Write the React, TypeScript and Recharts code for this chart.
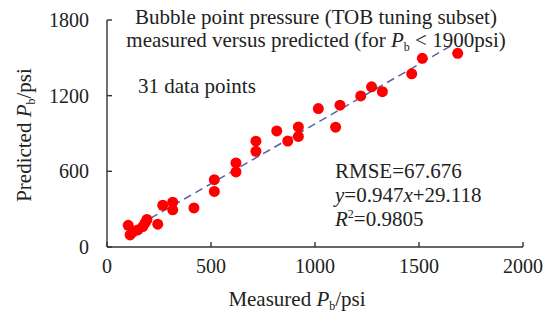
import { ReferenceLine, Scatter, ScatterChart, XAxis, YAxis } from "recharts";

const measured = [
	1686, 1516, 1465, 1272, 1324, 1220, 1120, 1016, 1099, 920, 920, 816, 869,
	716, 716, 620, 620, 516, 516, 418, 316, 316, 268, 244, 192, 183, 172, 148,
	125, 111, 102,
];
const predicted = [
	1536, 1496, 1373, 1270, 1232, 1198, 1125, 1098, 950, 952, 877, 920, 840,
	839, 759, 667, 595, 534, 441, 310, 355, 295, 331, 181, 218, 189, 162, 135,
	120, 96, 172,
];
const xTicks = [0, 500, 1000, 1500, 2000];
const yTicks = [0, 600, 1200, 1800];

const slope = 0.947;
const intercept = 29.118;
const fitRange = [100, 1660];

const points = measured.map((m, i) => ({ x: m, y: predicted[i] }));

const font = "'Liberation Serif', 'Times New Roman', serif";
const ink = "#222";

const Dot = (props: any) => (
	<circle cx={props.cx} cy={props.cy} r={5.5} fill="#ff0000" />
);

const XTick = (props: any) => (
	<text
		x={props.x}
		y={props.y}
		dy="0.71em"
		textAnchor="middle"
		style={{ fontFamily: font, fontSize: 20, fill: ink }}
	>
		{props.payload.value}
	</text>
);

const YTick = (props: any) => (
	<text
		x={props.x}
		y={props.y}
		dy="0.355em"
		textAnchor="end"
		style={{ fontFamily: font, fontSize: 20, fill: ink }}
	>
		{props.payload.value}
	</text>
);

export default function App() {
	return (
		<div
			style={{
				position: "absolute",
				left: 0,
				top: 0,
				width: 552,
				height: 325,
				fontFamily: font,
			}}
		>
			<ScatterChart
				width={552}
				height={325}
				margin={{ top: 20, right: 29, left: 0, bottom: 0 }}
			>
				<XAxis
					type="number"
					dataKey="x"
					domain={[0, 2000]}
					ticks={xTicks}
					height={78}
					tickSize={-5}
					tickMargin={17}
					tick={XTick}
					axisLine={{ stroke: "#333", strokeWidth: 1.4 }}
					tickLine={{ stroke: "#333", strokeWidth: 1.4 }}
					interval={0}
				/>
				<YAxis
					type="number"
					dataKey="y"
					domain={[0, 1800]}
					ticks={yTicks}
					width={107}
					tickSize={-5}
					tickMargin={23}
					tick={YTick}
					axisLine={{ stroke: "#333", strokeWidth: 1.4 }}
					tickLine={{ stroke: "#333", strokeWidth: 1.4 }}
					interval={0}
				/>
				<Scatter
					data={points}
					shape={<Dot />}
					isAnimationActive={false}
				/>
				<ReferenceLine
					segment={[
						{ x: fitRange[0], y: slope * fitRange[0] + intercept },
						{ x: fitRange[1], y: slope * fitRange[1] + intercept },
					]}
					stroke="#5c5fa8"
					strokeWidth={1.5}
					strokeDasharray="8 5"
					ifOverflow="visible"
				/>
			</ScatterChart>
			<svg
				width={552}
				height={325}
				style={{ position: "absolute", left: 0, top: 0, pointerEvents: "none" }}
				fontFamily={font}
				fill={ink}
				fontSize={21}
			>
				<text x={316} y={24} textAnchor="middle">
					Bubble point pressure (TOB tuning subset)
				</text>
				<text x={316} y={47} textAnchor="middle">
					measured versus predicted (for <tspan fontStyle="italic">P</tspan>
					<tspan fontSize={12} dy={4}>b</tspan>
					<tspan dy={-4}> &lt; 1900psi)</tspan>
				</text>
				<text x={138} y={93}>31 data points</text>
				<text x={335} y={178}>RMSE=67.676</text>
				<text x={335} y={202}>
					<tspan fontStyle="italic">y</tspan>=0.947<tspan fontStyle="italic">x</tspan>+29.118
				</text>
				<text x={335} y={226}>
					<tspan fontStyle="italic">R</tspan>
					<tspan fontSize={12} dy={-8}>2</tspan>
					<tspan dy={8}>=0.9805</tspan>
				</text>
				<text x={297} y={306} textAnchor="middle">
					Measured <tspan fontStyle="italic">P</tspan>
					<tspan fontSize={12} dy={4}>b</tspan>
					<tspan dy={-4}>/psi</tspan>
				</text>
				<text
					x={0}
					y={0}
					textAnchor="middle"
					transform="translate(31,135) rotate(-90)"
				>
					Predicted <tspan fontStyle="italic">P</tspan>
					<tspan fontSize={12} dy={4}>b</tspan>
					<tspan dy={-4}>/psi</tspan>
				</text>
			</svg>
		</div>
	);
}
